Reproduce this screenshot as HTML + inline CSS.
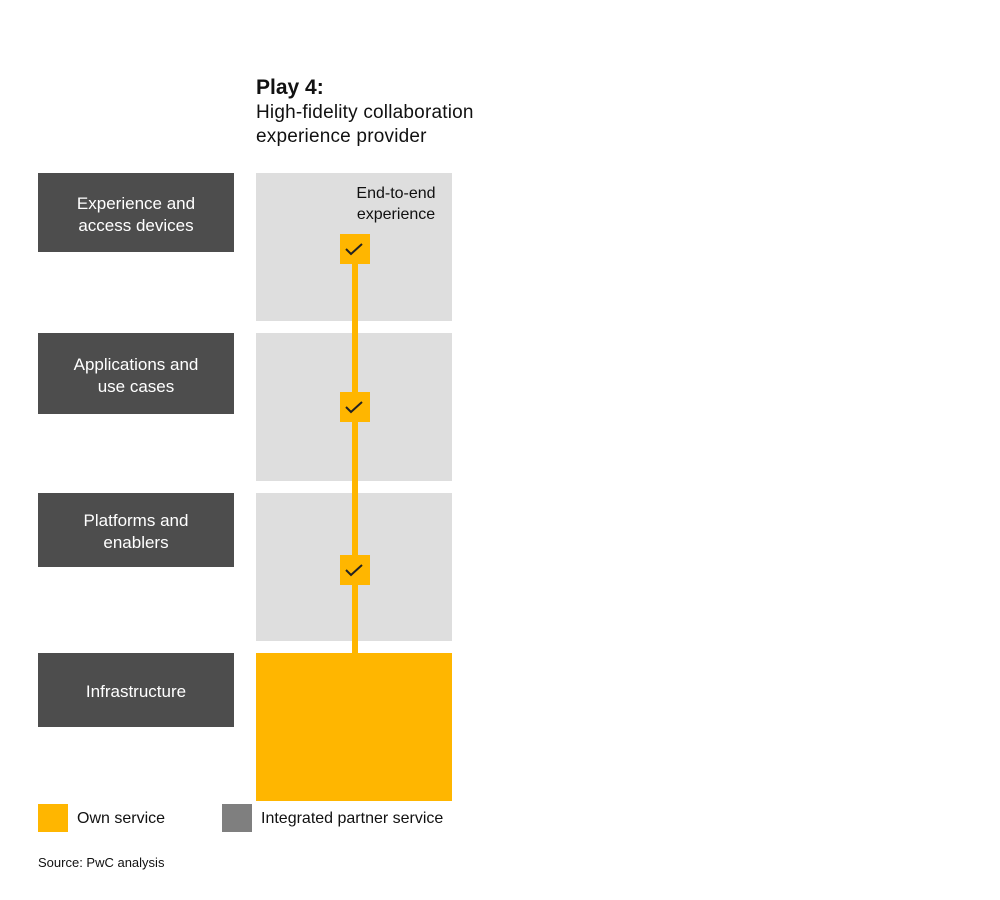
<!DOCTYPE html>
<html><head><style>
body{margin:0;width:1000px;height:900px;background:#fff;position:relative;font-family:"Liberation Sans",Arial,sans-serif;overflow:hidden}
div{position:absolute;box-sizing:border-box}
.d{left:38px;width:196px;background:#4d4d4d;color:#fff;font-size:17px;line-height:22px;text-align:center;display:flex;align-items:center;justify-content:center;padding-top:4px}
.g{left:256px;width:196px;background:#dedede}
.c{left:340px;width:30px;height:30px;background:#ffb600}
.c svg{position:absolute;left:0;top:0}
.t{color:#111;white-space:nowrap}
</style></head><body>
<div class="t" style="left:256px;top:76px;font-size:21px;font-weight:bold">Play 4:</div>
<div class="t" style="left:256px;top:101px;font-size:19px;line-height:24px;letter-spacing:0.2px">High-fidelity collaboration<br>experience provider</div>

<div class="d" style="top:173px;height:79px">Experience and<br>access devices</div>
<div class="d" style="top:333px;height:81px">Applications and<br>use cases</div>
<div class="d" style="top:493px;height:74px">Platforms and<br>enablers</div>
<div class="d" style="top:653px;height:74px">Infrastructure</div>

<div class="g" style="top:173px;height:148px"></div>
<div class="g" style="top:333px;height:148px"></div>
<div class="g" style="top:493px;height:148px"></div>
<div style="left:256px;top:653px;width:196px;height:148px;background:#ffb600"></div>
<div class="t" style="left:346px;top:183px;width:100px;text-align:center;font-size:16px;line-height:21px">End-to-end<br>experience</div>
<div style="left:352px;top:250px;width:6px;height:405px;background:#ffb600"></div>
<div class="c" style="top:234px"><svg width="30" height="30"><path d="M6 15 L11 20 L22 10" stroke="#222" stroke-width="2" fill="none"/></svg></div>
<div class="c" style="top:392px"><svg width="30" height="30"><path d="M6 15 L11 20 L22 10" stroke="#222" stroke-width="2" fill="none"/></svg></div>
<div class="c" style="top:555px"><svg width="30" height="30"><path d="M6 15 L11 20 L22 10" stroke="#222" stroke-width="2" fill="none"/></svg></div>

<div style="left:38px;top:804px;width:30px;height:28px;background:#ffb600"></div>
<div class="t" style="left:77px;top:810px;font-size:16px">Own service</div>
<div style="left:222px;top:804px;width:30px;height:28px;background:#7f7f7f"></div>
<div class="t" style="left:261px;top:810px;font-size:16px">Integrated partner service</div>
<div class="t" style="left:38px;top:855px;font-size:13px">Source: PwC analysis</div>
</body></html>
